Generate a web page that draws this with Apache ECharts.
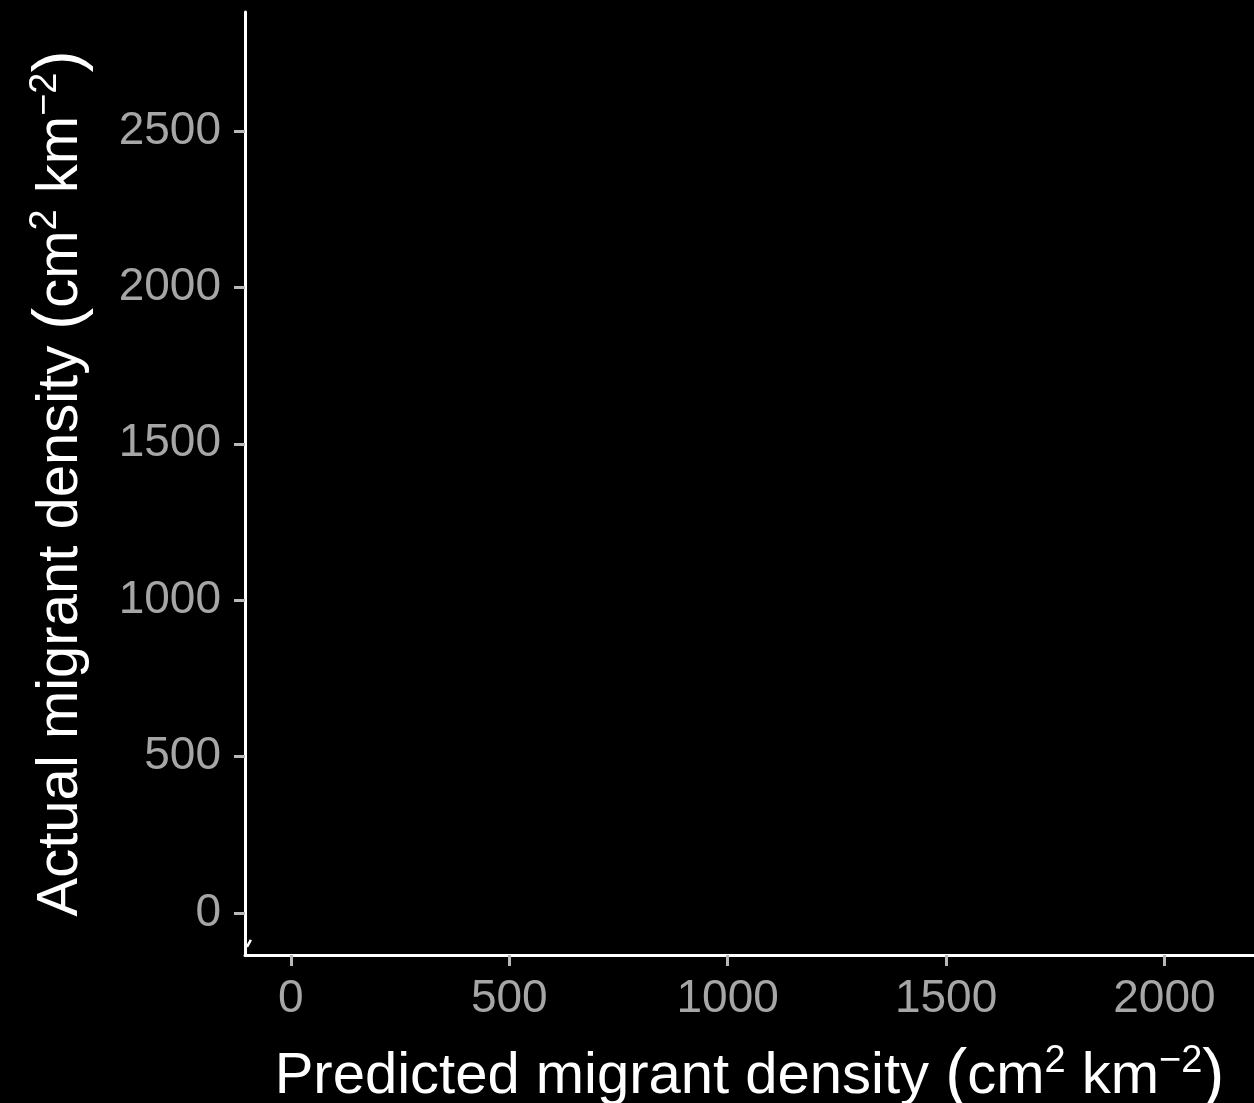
<!DOCTYPE html>
<html>
<head>
<meta charset="utf-8">
<script src="https://cdn.jsdelivr.net/npm/echarts@6/dist/echarts.min.js"></script>
<style>
html,body{margin:0;padding:0;background:#000;}
#chart{width:1254px;height:1103px;}
</style>
</head>
<body>
<div id="chart"></div>
<script>
var xTicks = [0, 500, 1000, 1500, 2000];
var yTicks = [0, 500, 1000, 1500, 2000, 2500];
var segX = [-91.5, -100.5];
var segY = [-86, -108];

var chart = echarts.init(document.getElementById('chart'));
var font = 'Liberation Sans, Arial, sans-serif';
var nameRich = {
  a: {fontSize: 58, color: '#ffffff', fontFamily: font},
  p: {fontSize: 66, color: '#ffffff', fontFamily: font},
  s: {fontSize: 38, color: '#ffffff', fontFamily: font, padding: [0, 0, 30, 0]}
};
function plain(v) { return String(v); }
chart.setOption({
  backgroundColor: '#000000',
  animation: false,
  grid: {left: 245, right: 0, top: 12, bottom: 148, containLabel: false, outerBoundsMode: 'none'},
  xAxis: {
    type: 'value', min: -105, max: 2205,
    name: '{a|Predicted migrant density }{p|(}{a|cm}{s|2}{a| km}{s|−2}{p|)}',
    nameLocation: 'middle', nameGap: 88,
    nameTextStyle: {rich: nameRich},
    axisLine: {show: true, onZero: false, lineStyle: {color: '#ffffff', width: 3}},
    axisTick: {show: true, length: 11, customValues: xTicks, lineStyle: {color: '#b8b8b8', width: 3}},
    axisLabel: {customValues: xTicks, formatter: plain, color: '#a6a6a6', fontSize: 46, fontFamily: font, margin: 21},
    splitLine: {show: false}
  },
  yAxis: {
    type: 'value', min: -134, max: 2880,
    name: '{a|Actual migrant density }{p|(}{a|cm}{s|2}{a| km}{s|−2}{p|)}',
    nameLocation: 'middle', nameGap: 150,
    nameTextStyle: {rich: nameRich},
    axisLine: {show: true, onZero: false, lineStyle: {color: '#ffffff', width: 3}},
    axisTick: {show: true, length: 11, customValues: yTicks, lineStyle: {color: '#b8b8b8', width: 3}},
    axisLabel: {customValues: yTicks, formatter: plain, color: '#a6a6a6', fontSize: 46, fontFamily: font, margin: 24},
    splitLine: {show: false}
  },
  series: [{
    type: 'line',
    data: segX.map(function (x, i) { return [x, segY[i]]; }),
    symbol: 'none',
    lineStyle: {color: '#ffffff', width: 2.5},
    clip: true
  }]
});
</script>
</body>
</html>
